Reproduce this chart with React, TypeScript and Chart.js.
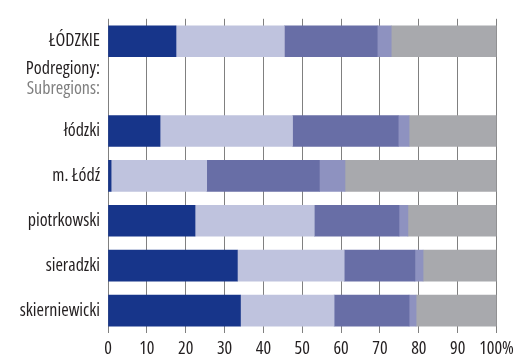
import React, { useEffect, useRef } from "react";
import { Chart, registerables } from "chart.js";

Chart.register(...registerables);

const categories = ["ŁÓDZKIE", "Podregiony:", "łódzki", "m. Łódź", "piotrkowski", "sieradzki", "skierniewicki"];
const share1 = [17.5, null, 13.4, 0.8, 22.4, 33.3, 34.1];
const share2 = [27.9, null, 34.1, 24.6, 30.7, 27.5, 24.1];
const share3 = [23.9, null, 27.2, 29.0, 21.8, 18.2, 19.3];
const share4 = [3.6, null, 2.8, 6.6, 2.3, 2.1, 1.8];
const share5 = [27.1, null, 22.5, 39.0, 22.8, 18.9, 20.7];
const subLabelPl = "Podregiony:";
const subLabelEn = "Subregions:";

const FAMILY = "'Open Sans', 'Roboto', sans-serif";
const WEIGHT = "condensed";
const TEXT = "#231f20";

const subregionLabelPlugin = {
  id: "subregionLabel",
  afterDraw(chart: any) {
    const y = chart.scales.y;
    const ctx = chart.ctx;
    const idx = categories.indexOf(subLabelPl);
    const cy = y.getPixelForValue(idx);
    const x = chart.chartArea.left - 8;
    ctx.save();
    ctx.font = `${WEIGHT} 18px ${FAMILY}`;
    ctx.textAlign = "right";
    ctx.textBaseline = "middle";
    ctx.fillStyle = TEXT;
    ctx.fillText(subLabelPl, x, cy - 17);
    ctx.fillStyle = "#7f7f7f";
    ctx.fillText(subLabelEn, x, cy + 3);
    ctx.restore();
  },
};

export default function App() {
  const ref = useRef<HTMLCanvasElement | null>(null);
  useEffect(() => {
    if (!ref.current) return;
    const colors = ["#17358a", "#bfc3de", "#686ea6", "#8e92c0", "#a8a9ad"];
    const series = [share1, share2, share3, share4, share5];
    const chart = new Chart(ref.current, {
      type: "bar",
      data: {
        labels: categories,
        datasets: series.map((d, i) => ({
          label: `share${i + 1}`,
          data: d,
          backgroundColor: colors[i],
          borderWidth: 0,
          barThickness: 31,
        })),
      },
      options: {
        indexAxis: "y",
        animation: false,
        responsive: false,
        maintainAspectRatio: false,
        layout: { padding: { left: 8, top: 12, right: 27.5, bottom: 0 } },
        plugins: { legend: { display: false }, tooltip: { enabled: false } },
        scales: {
          x: {
            stacked: true,
            min: 0,
            max: 100,
            afterFit: (s: any) => {
              s.height = 23;
            },
            grid: { color: "#808080", lineWidth: 1, drawTicks: false },
            border: { display: false },
            ticks: {
              stepSize: 10,
              autoSkip: false,
              padding: 5,
              color: TEXT,
              font: { family: FAMILY, size: 18, weight: WEIGHT as any },
              maxRotation: 0,
              callback: (v: any) => (v === 100 ? "100%" : String(v)),
            },
          },
          y: {
            stacked: true,
            afterFit: (s: any) => {
              s.width = 100;
            },
            grid: { display: false, drawTicks: false },
            border: { display: false },
            ticks: {
              padding: 8,
              color: TEXT,
              font: { family: FAMILY, size: 18, weight: WEIGHT as any },
              callback: (_v: any, i: number) => (categories[i] === subLabelPl ? "" : categories[i]),
            },
          },
        },
      },
      plugins: [subregionLabelPlugin],
    });
    return () => chart.destroy();
  }, []);
  return (
    <div style={{ position: "fixed", left: 0, top: 0, width: 524, height: 356, background: "#fff" }}>
      <canvas ref={ref} width={524} height={356} />
    </div>
  );
}
